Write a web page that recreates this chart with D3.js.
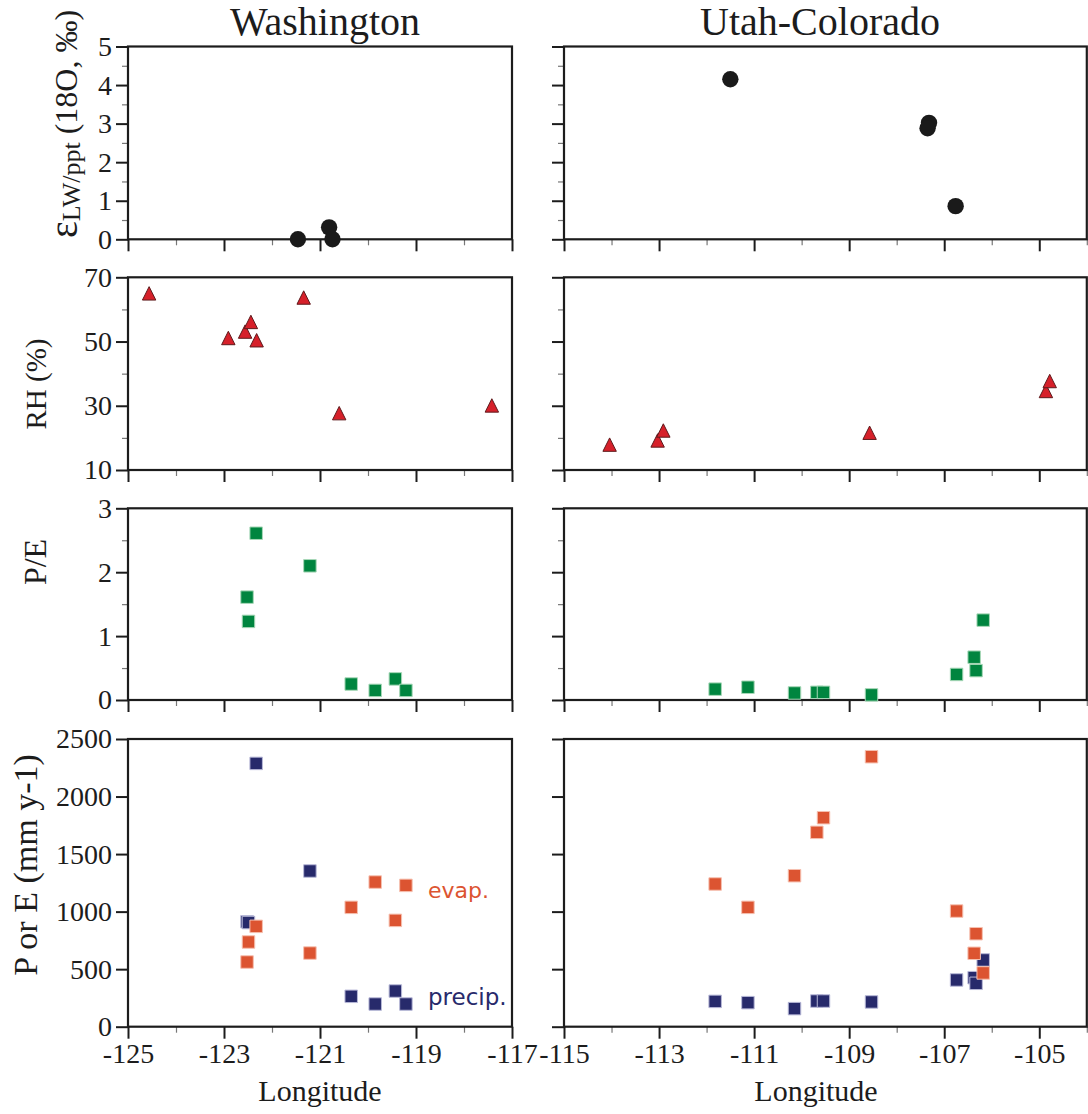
<!DOCTYPE html>
<html><head><meta charset="utf-8">
<script src="https://cdn.jsdelivr.net/npm/d3@7"></script>
<style>body{margin:0;background:#fff} svg{display:block}</style>
</head><body>
<svg id="c" width="1088" height="1114"></svg>
<script>
// ---------- text ----------
const panelTitles = ["Washington", "Utah-Colorado"];
const xLabel = "Longitude";
const noteEvap = "evap.";
const notePrecip = "precip.";

// ---------- tick values ----------
const waXMajor = [-125, -123, -121, -119, -117];
const waXMinor = [-124, -122, -120, -118];
const ucXMajor = [-115, -113, -111, -109, -107, -105];
const ucXMinor = [-114, -112, -110, -108, -106, -104];
const epsMajor = [0, 1, 2, 3, 4, 5];
const epsMinor = [0.5, 1.5, 2.5, 3.5, 4.5];
const rhMajor = [10, 30, 50, 70];
const rhMinor = [20, 40, 60];
const peMajor = [0, 1, 2, 3];
const peMinor = [0.5, 1.5, 2.5];
const peeMajor = [0, 500, 1000, 1500, 2000, 2500];
const peeMinor = [];

// ---------- data: Washington ----------
const waEpsLon = [-121.46, -120.81, -120.74];
const waEps    = [0.0, 0.31, 0.0];
const waRHLon  = [-124.56, -121.34, -122.91, -122.56, -122.44, -122.32, -120.60, -117.42];
const waRH     = [65.0, 63.7, 51.1, 53.1, 56.1, 50.4, 27.7, 30.1];
const waLon    = [-122.52, -122.49, -122.33, -121.21, -120.35, -119.85, -119.43, -119.21];
const waPE     = [1.61, 1.23, 2.61, 2.10, 0.25, 0.15, 0.33, 0.15];
const waP      = [912, 905, 2288, 1353, 264, 197, 310, 197];
const waE      = [562, 736, 872, 640, 1037, 1257, 924, 1228];

// ---------- data: Utah-Colorado ----------
const ucEpsLon = [-111.50, -107.32, -107.35, -106.76];
const ucEps    = [4.15, 3.02, 2.88, 0.86];
const ucRHLon  = [-114.04, -113.03, -112.91, -108.57, -104.86, -104.78];
const ucRH     = [17.9, 19.2, 22.3, 21.6, 34.6, 37.7];
const ucLon    = [-111.82, -111.13, -110.15, -109.68, -109.54, -108.53, -106.74, -106.37, -106.33, -106.18];
const ucPE     = [0.17, 0.20, 0.11, 0.12, 0.12, 0.08, 0.40, 0.67, 0.46, 1.25];
const ucP      = [220, 209, 157, 223, 223, 215, 406, 426, 377, 580];
const ucE      = [1240, 1037, 1312, 1689, 1816, 2346, 1005, 638, 808, 467];

// ---------- layout ----------
const svg = d3.select("#c");
const serif = "'Liberation Serif','Times New Roman',serif";
const ink = "#1c1c1c";

const cols = [
  { x: d3.scaleLinear().domain([-125, -117]).range([128, 512]), major: waXMajor, minor: waXMinor },
  { x: d3.scaleLinear().domain([-115, -104]).range([564, 1086.8]), major: ucXMajor, minor: ucXMinor }
];
const rows = [
  { y: d3.scaleLinear().domain([0, 5]).range([239.3, 46.5]), major: epsMajor, minor: epsMinor },
  { y: d3.scaleLinear().domain([10, 70]).range([470, 277.3]), major: rhMajor, minor: rhMinor },
  { y: d3.scaleLinear().domain([0, 3]).range([700, 508.3]), major: peMajor, minor: peMinor },
  { y: d3.scaleLinear().domain([0, 2500]).range([1026.7, 739]), major: peeMajor, minor: peeMinor }
];

function styleAxis(sel, w, col) {
  sel.select(".domain").remove();
  sel.selectAll(".tick line").attr("stroke", col).attr("stroke-width", w);
}

rows.forEach((r, ri) => {
  cols.forEach((c, ci) => {
    const [x0, x1] = c.x.range();
    const [yb, yt] = r.y.range();
    const g = svg.append("g");
    g.append("g").attr("transform", `translate(0,${yb})`)
      .call(d3.axisBottom(c.x).tickValues(c.minor).tickSize(6).tickFormat(""))
      .call(s => styleAxis(s, 1.2, "#777"));
    const xa = g.append("g").attr("transform", `translate(0,${yb})`)
      .call(d3.axisBottom(c.x).tickValues(c.major).tickSize(12).tickFormat(d => ri === 3 ? String(d) : ""))
      .call(s => styleAxis(s, 2, ink));
    xa.selectAll("text").attr("y", 36).attr("dy", 0)
      .style("font-family", serif).style("font-size", "28px").attr("fill", ink);
    if (r.minor.length) {
      g.append("g").attr("transform", `translate(${x0},0)`)
        .call(d3.axisLeft(r.y).tickValues(r.minor).tickSize(6).tickFormat(""))
        .call(s => styleAxis(s, 1.2, "#777"));
    }
    const ya = g.append("g").attr("transform", `translate(${x0},0)`)
      .call(d3.axisLeft(r.y).tickValues(r.major).tickSize(12).tickPadding(4)
        .tickFormat(d => ci === 0 ? String(d) : ""))
      .call(s => styleAxis(s, 2, ink));
    ya.selectAll("text").style("font-family", serif).style("font-size", "28px").attr("fill", ink);
    g.append("rect").attr("x", x0).attr("y", yt).attr("width", x1 - x0).attr("height", yb - yt)
      .attr("fill", "none").attr("stroke", ink).attr("stroke-width", 2.2);
  });
});

// ---------- marks ----------
const triType = {
  draw(ctx, size) {
    const s = Math.sqrt(size) / 2;
    ctx.moveTo(0, -s); ctx.lineTo(s, s); ctx.lineTo(-s, s); ctx.closePath();
  }
};
const sq = d3.symbol(d3.symbolSquare, 156)();
const tri = d3.symbol(triType, 180)();
const circ = d3.symbol(d3.symbolCircle, Math.PI * 8.2 * 8.2)();

function plot(col, row, lons, vals, path, fill, stroke, sw) {
  const x = cols[col].x, y = rows[row].y;
  svg.append("g").selectAll("path").data(lons.map((l, i) => [l, vals[i]])).join("path")
    .attr("d", path)
    .attr("transform", d => `translate(${x(d[0])},${y(d[1])})`)
    .attr("fill", fill).attr("stroke", stroke).attr("stroke-width", sw);
}

plot(0, 0, waEpsLon, waEps, circ, "#1a1a1a", "none", 0);
plot(1, 0, ucEpsLon, ucEps, circ, "#1a1a1a", "none", 0);
plot(0, 1, waRHLon, waRH, tri, "#d6202a", "#5e1a1c", 1);
plot(1, 1, ucRHLon, ucRH, tri, "#d6202a", "#5e1a1c", 1);
plot(0, 2, waLon, waPE, sq, "#00853f", "#a8d8b8", 1);
plot(1, 2, ucLon, ucPE, sq, "#00853f", "#a8d8b8", 1);
plot(0, 3, waLon, waP, sq, "#272a6b", "#b8b9d8", 1);
plot(1, 3, ucLon, ucP, sq, "#272a6b", "#b8b9d8", 1);
plot(0, 3, waLon, waE, sq, "#dc5431", "#f6c0b0", 1);
plot(1, 3, ucLon, ucE, sq, "#dc5431", "#f6c0b0", 1);

// ---------- texts ----------
const titleX = [325, 820];
panelTitles.forEach((t, i) => {
  svg.append("text").attr("x", titleX[i]).attr("y", 35).attr("text-anchor", "middle")
    .style("font-family", serif).style("font-size", "40px").attr("fill", ink).text(t);
});
[320, 816].forEach(cx => {
  svg.append("text").attr("x", cx).attr("y", 1101).attr("text-anchor", "middle")
    .style("font-family", serif).style("font-size", "30px").attr("fill", ink).text(xLabel);
});

function yLabel(bx, cy, fs) {
  return svg.append("text").attr("transform", `translate(${bx},${cy}) rotate(-90)`)
    .attr("text-anchor", "middle").style("font-family", serif).style("font-size", fs + "px")
    .attr("fill", ink);
}
const eps = yLabel(77, 124, 32);
eps.append("tspan").style("font-size", "40px").text("ε");
eps.append("tspan").style("font-size", "26px").attr("dy", 3).text("LW/ppt");
eps.append("tspan").attr("dy", -3).text(" (18O, ‰)");
yLabel(46, 384, 29).text("RH (%)");
yLabel(46, 562, 32).text("P/E");
yLabel(37, 865, 34).text("P or E (mm y-1)");

const sans = "'DejaVu Sans','Noto Sans',sans-serif";
svg.append("text").attr("x", 428).attr("y", 898).style("font-family", sans).style("font-size", "22px")
  .attr("fill", "#dc5431").text(noteEvap);
svg.append("text").attr("x", 428).attr("y", 1005).style("font-family", sans).style("font-size", "23px")
  .attr("fill", "#272a6b").text(notePrecip);
</script>
</body></html>
